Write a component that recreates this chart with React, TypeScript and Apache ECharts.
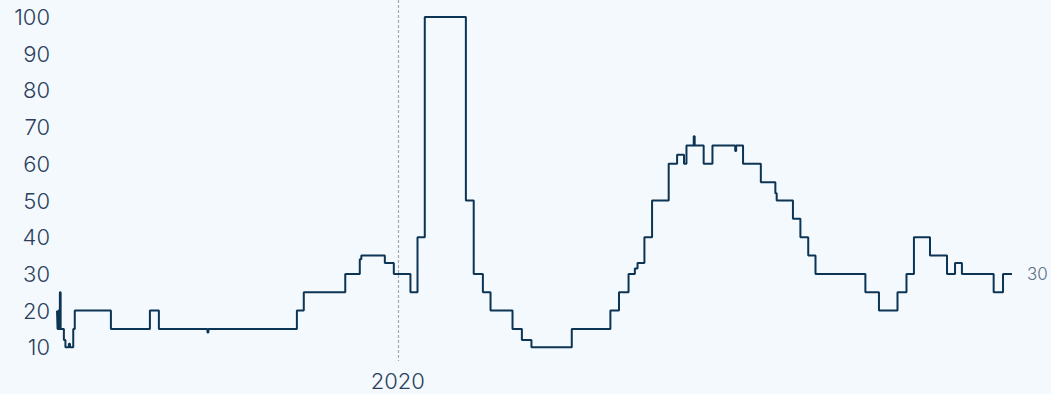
import { useEffect, useRef } from "react";
import * as echarts from "echarts";

// Decimal-year time of each change in value (value holds until the next entry)
const years = [
  2018.217, 2018.22, 2018.224, 2018.228, 2018.232, 2018.236, 2018.253, 2018.261, 2018.279, 2018.285,
  2018.302, 2018.31, 2018.499, 2018.703, 2018.75,
  2019.004, 2019.009, 2019.472, 2019.508, 2019.725, 2019.801, 2019.809, 2019.932, 2019.979,
  2020.066, 2020.103, 2020.141, 2020.356, 2020.397, 2020.445, 2020.485, 2020.6, 2020.649, 2020.699, 2020.91,
  2021.112, 2021.157, 2021.207, 2021.24, 2021.254, 2021.29, 2021.33, 2021.417, 2021.461, 2021.497,
  2021.51, 2021.548, 2021.553, 2021.6, 2021.646, 2021.765, 2021.77, 2021.806, 2021.899, 2021.975, 2021.982,
  2022.067, 2022.106, 2022.147, 2022.185, 2022.446, 2022.517, 2022.614, 2022.661, 2022.7, 2022.784,
  2022.873, 2022.915, 2022.951,
  2023.117, 2023.166, 2023.213,
];

const values = [
  20, 15, 20, 15, 25, 15, 12, 10, 11, 10, 15, 20, 15, 20, 15,
  14, 15, 20, 25, 30, 34, 35, 33, 30,
  25, 40, 100, 50, 30, 25, 20, 15, 12, 10, 15,
  20, 25, 30, 31.5, 33, 40, 50, 60, 62.5, 60, 65, 67.5, 65, 60, 65, 63.5, 65, 60, 55, 52, 50,
  45, 40, 35, 30, 25, 20, 25, 30, 40, 35, 30, 33, 30,
  25, 30, 30,
];

const yTickValues = [10, 20, 30, 40, 50, 60, 70, 80, 90, 100];
const markerYears = [2020];

export default function App() {
  const ref = useRef<HTMLDivElement>(null);

  useEffect(() => {
    if (!ref.current) return;
    const chart = echarts.init(ref.current, null, { renderer: "svg" });
    const data = years.map((y, i) => [y, values[i]]);
    const labelColor = "#2b3f5c";

    chart.setOption({
      animation: false,
      backgroundColor: "#f4f9fd",
      textStyle: { fontFamily: "Inter, Lato, sans-serif", fontWeight: 300 },
      grid: { left: 57, right: 39, top: 17, bottom: 10, containLabel: false },
      xAxis: {
        type: "value",
        min: years[0],
        max: years[years.length - 1],
        axisLine: { show: false },
        axisTick: { show: false },
        splitLine: { show: false },
        axisLabel: {
          customValues: markerYears,
          formatter: (v: number) => String(Math.round(v)),
          margin: -14,
          fontSize: 22,
          fontWeight: 300,
          color: labelColor,
        },
      },
      yAxis: {
        type: "value",
        min: 0,
        max: 100,
        interval: 10,
        axisLine: { show: false },
        axisTick: { show: false },
        splitLine: { show: false },
        axisLabel: {
          customValues: yTickValues,
          formatter: (v: number) => String(v),
          margin: 7,
          fontSize: 22,
          fontWeight: 300,
          color: labelColor,
        },
      },
      series: [
        {
          type: "line",
          step: "end",
          data,
          showSymbol: false,
          symbol: "none",
          lineStyle: { color: "#0c3454", width: 2 },
          endLabel: {
            show: true,
            formatter: (p: any) => String(p.value[1]),
            distance: 15,
            fontSize: 17,
            fontWeight: 300,
            color: "#5f7084",
          },
          z: 3,
        },
      ],
    });

    const px = chart.convertToPixel({ xAxisIndex: 0 }, markerYears[0]) as number;
    chart.setOption({
      graphic: [
        {
          type: "line",
          z: 1,
          shape: { x1: Math.round(px) + 0.5, y1: 0, x2: Math.round(px) + 0.5, y2: 361 },
          style: { stroke: "#a3a8ae", lineWidth: 1.2, lineDash: [3, 2] },
        },
      ],
    });

    return () => chart.dispose();
  }, []);

  return (
    <div
      ref={ref}
      style={{ position: "fixed", left: 0, top: 0, width: 1051, height: 394 }}
    />
  );
}
